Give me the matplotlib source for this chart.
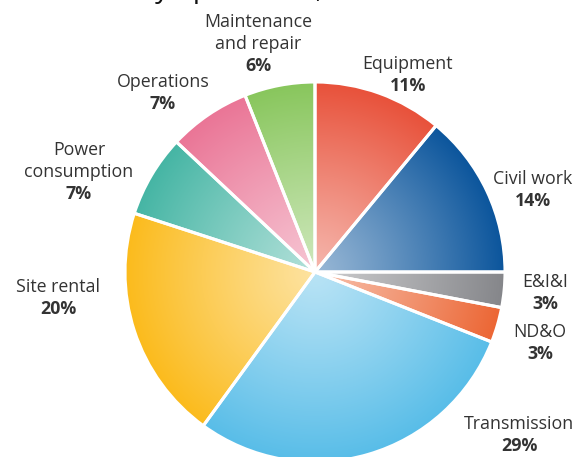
import numpy as np
import matplotlib.pyplot as plt
from matplotlib.colors import to_rgb

# Cost breakdown, clockwise from 12 o'clock
categories = ["Equipment", "Civil work", "E&I&I", "ND&O", "Transmission",
              "Site rental", "Power consumption", "Operations",
              "Maintenance and repair"]
shares = [11, 14, 3, 3, 29, 20, 7, 7, 6]
label_names = ["Equipment", "Civil work", "E&I&I", "ND&O", "Transmission",
               "Site rental", "Power\nconsumption", "Operations",
               "Maintenance\nand repair"]

colors = ["#e8513a", "#0b559c", "#85868a", "#ec6634", "#58bde8",
          "#fbbb1c", "#45b5a4", "#ea7596", "#88c65c"]

# label anchor (pixel centre of the first line) for each slice
label_pos = [(408, 62), (533, 177), (545, 280), (540, 330), (519, 422),
             (58, 285), (79, 148), (163, 80), (258, 20)]
line_gap = 22  # px between label lines

W, H = 578, 457
cx, cy, R = 315, 272, 190

fig = plt.figure(figsize=(W / 100, H / 100), dpi=100)
ax = fig.add_axes([0, 0, 1, 1])

wedges, _ = ax.pie(shares, startangle=90, counterclock=False,
                   colors=colors, radius=1.0,
                   wedgeprops=dict(edgecolor="white", linewidth=2.2))

# radial shading: pale near the centre, full colour at the rim
n = 400
g = np.linspace(-1, 1, n)
xx, yy = np.meshgrid(g, g)
rr = np.clip(np.sqrt(xx ** 2 + yy ** 2), 0, 1)
for w, c in zip(wedges, colors):
    base = np.array(to_rgb(c))
    t = rr ** 1.1
    fade = 0.58 * (1 - t)
    img = base[None, None, :] * (1 - fade[..., None]) + fade[..., None]
    im = ax.imshow(img, extent=(-1, 1, -1, 1), origin="lower",
                   interpolation="bilinear", zorder=1.5, aspect="auto")
    im.set_clip_path(w)
    w.set_facecolor("none")
    w.set_zorder(2)

ax.set_xlim(-cx / R, (W - cx) / R)
ax.set_ylim(-(H - cy) / R, cy / R)
ax.set_aspect("auto")
ax.axis("off")

# slice labels: name line(s) then bold percentage
fs = 12.8
for name, val, (px, py) in zip(label_names, shares, label_pos):
    x = (px - cx) / R
    lines = name.split("\n") + [f"{val}%"]
    for i, line in enumerate(lines):
        y = (cy - py - i * line_gap) / R
        bold = i == len(lines) - 1
        ax.text(x, y, line, ha="center", va="center_baseline", fontsize=fs,
                color="#333333", family="Open Sans",
                fontweight="bold" if bold else "normal")

# running text from the page above, cut off at the top edge
fig.text(0.5, 1 + 3 / H, "availability operations, tariff and service",
         ha="center", va="baseline", fontsize=20, color="#111111",
         family="Open Sans")

fig.savefig("out.png", dpi=100)
